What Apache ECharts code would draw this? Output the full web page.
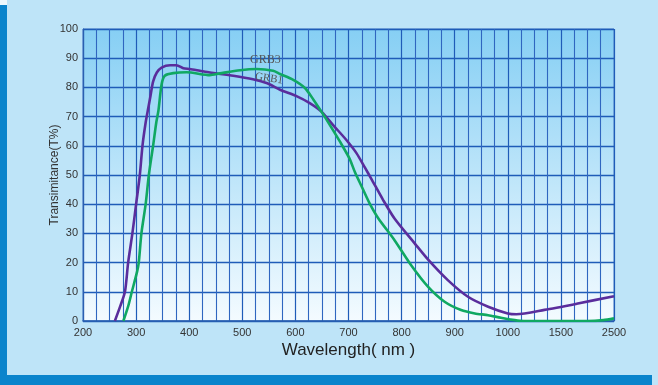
<!DOCTYPE html>
<html><head><meta charset="utf-8">
<script src="https://cdn.jsdelivr.net/npm/echarts@6/dist/echarts.min.js"></script>
<style>html,body{margin:0;padding:0;background:#bee4f8;}#c{width:658px;height:385px;}</style>
</head><body><div id="c"></div>
<script>
// Tick labels of the (non-linear) wavelength axis, one per major tick
const xTickLabels = ['200','300','400','500','600','700','800','900','1000','1500','2500'];
// GRB1 (purple): wavelength nm / transmittance %
const grb1Wave = [260,270,279,285,293,300,307,312,318,323,327,332,339,348,364,376,389,401,420,439,483,520,547,571,602,627,649,671,696,715,731,743,765,787,825,850,887,925,963,1000,1080,1345,1820,2500];
const grb1T    = [0,5,10,20,30,40,50,60,68,73,77,82,85.1,86.8,87.6,87.6,86.6,86.3,85.7,85.1,84,82.8,81.4,79.2,77,74.6,71.7,67.1,62,57.5,52.5,48.7,41.5,35,26.5,21,14,8.3,4.9,2.6,2.3,3.8,6,8.5];
// GRB3 (green)
const grb3Wave = [276,285,292,302,305,310,318,324,332,338,342,348,354,370,395,439,458,496,527,558,571,596,618,634,649,665,684,702,712,727,740,756,787,818,850,881,912,938,963,987,1065,1150,1500,2000,2300,2500];
const grb3T    = [0,5,10,17,20,30,40,50,60,68,72,81,84,84.9,85.2,84.2,84.8,85.9,86.3,85.7,84.6,82.6,79.8,75.8,71.7,67.1,61.4,55.6,51,45.2,40.2,35.2,27.6,19.1,11.7,6.6,3.75,2.6,2.0,1.1,0.3,0,0,0,0.3,0.9];

// piecewise mapping of wavelength onto the evenly spaced tick index axis
function toIdx(w){
  if (w <= 1000) return (w-200)/100;
  if (w <= 1500) return 8 + (w-1000)/500;
  return 9 + (w-1500)/1000;
}
function pairs(ws, ts){ return ws.map((w,i)=>[toIdx(w), ts[i]]); }

const chart = echarts.init(document.getElementById('c'), null, {renderer:'canvas'});
const gridLine = '#1f5cb8';
chart.setOption({
  backgroundColor:'#bee4f8',
  animation:false,
  grid:{left:83, top:29, right:44, bottom:64, show:true, borderColor:'#4f80c8', borderWidth:1,
    backgroundColor:{type:'linear',x:0,y:0,x2:0,y2:1,colorStops:[{offset:0,color:'#86cff4'},{offset:1,color:'#f4fbff'}]}},
  xAxis:{type:'value', min:0, max:10, interval:1,
    name:'Wavelength( nm )', nameLocation:'middle', nameGap:21, nameMoveOverlap:false,
    nameTextStyle:{fontSize:17, color:'#222', fontFamily:'Liberation Sans, Arial'},
    axisLine:{show:true, lineStyle:{color:'#2a5fb0', width:1.5}},
    axisTick:{show:false},
    axisLabel:{color:'#333', fontSize:11, margin:6, fontFamily:'Liberation Sans, Arial',
      formatter:(v)=>xTickLabels[Math.round(v)] ?? ''},
    splitLine:{show:true, lineStyle:{color:gridLine, width:1.2}},
    minorTick:{show:false, splitNumber:4},
    minorSplitLine:{show:true, lineStyle:{color:'#2f66c0', width:1.1}}
  },
  yAxis:{type:'value', min:0, max:100, interval:10,
    name:'Transimitance(T%)', nameLocation:'middle', nameGap:22, nameMoveOverlap:false,
    nameTextStyle:{fontSize:12, color:'#333', fontFamily:'Liberation Sans, Arial'},
    axisLine:{show:true, lineStyle:{color:'#2a5fb0', width:1.2}},
    axisTick:{show:false},
    axisLabel:{color:'#333', fontSize:11, margin:5, fontFamily:'Liberation Sans, Arial'},
    splitLine:{show:true, lineStyle:{color:gridLine, width:1.3}}
  },
  series:[
    {name:'GRB1', type:'line', data:pairs(grb1Wave, grb1T), smooth:0.25, showSymbol:false,
      lineStyle:{color:'#5a2d9c', width:2.6}, z:3},
    {name:'GRB3', type:'line', data:pairs(grb3Wave, grb3T), smooth:0.25, showSymbol:false,
      lineStyle:{color:'#10a862', width:2.6}, z:4}
  ],
  graphic:[
    {type:'rect', shape:{x:0,y:5,width:7,height:380}, style:{fill:'#0a84cc'}, z:10},
    {type:'rect', shape:{x:0,y:0,width:7,height:5}, style:{fill:'#eef8fd'}, z:10},
    {type:'rect', shape:{x:0,y:375,width:652,height:10}, style:{fill:'#0a84cc'}, z:10},
    {type:'text', x:250, y:54, style:{text:'GRB3', fill:'#555', font:'12px "Liberation Serif", serif'}, z:100},
    {type:'text', x:256, y:71, rotation:-0.15, style:{text:'GRB1', fill:'#555', font:'11px "Liberation Serif", serif'}, z:100}
  ]
});
</script></body></html>
